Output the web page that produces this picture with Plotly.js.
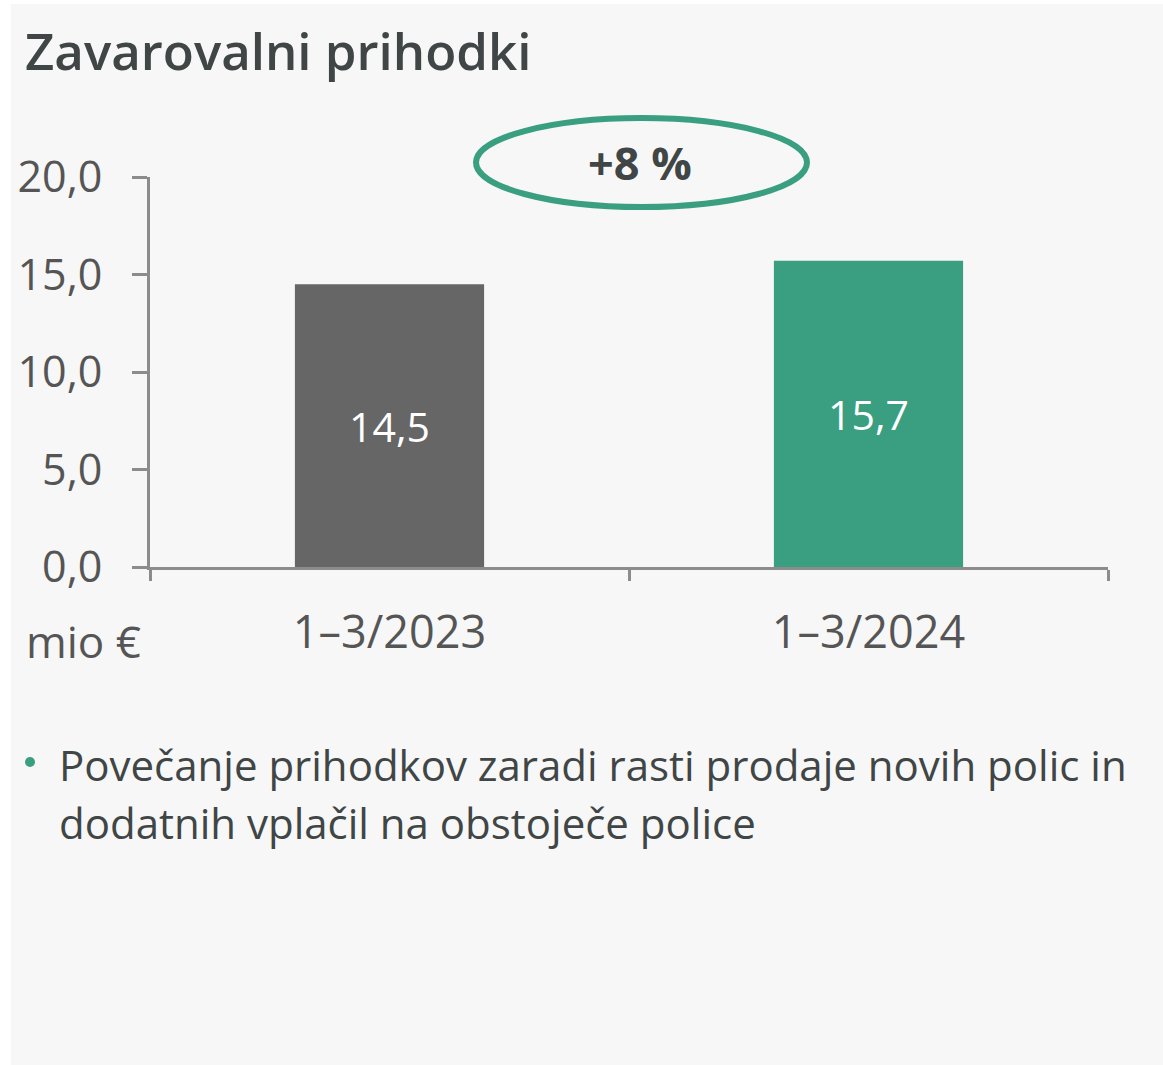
<!DOCTYPE html>
<html>
<head>
<meta charset="utf-8">
<script src="https://cdn.plot.ly/plotly-3.0.1.min.js"></script>
<style>
  html, body { margin: 0; padding: 0; background: #ffffff; }
  #chart { position: absolute; left: 11px; top: 4px; width: 1152px; height: 1061px; }
</style>
</head>
<body>
<div id="chart"></div>
<script>
const categories = ["1–3/2023", "1–3/2024"];
const values = [14.5, 15.7];
const barColors = ["#666666", "#3a9f80"];
const yTicks = [0, 5, 10, 15, 20];
const titleText = "Zavarovalni prihodki";
const growthLabel = "+8 %";
const unitLabel = "mio €";
const bulletLines = [
  "Povečanje prihodkov zaradi rasti prodaje novih polic in",
  "dodatnih vplačil na obstoječe police"
];

const FONT = "Open Sans, Noto Sans, sans-serif";
const labels = values.map(v => v.toFixed(1).replace('.', ','));

const trace = {
  type: 'bar',
  x: categories,
  y: values,
  text: labels,
  textposition: 'inside',
  insidetextanchor: 'middle',
  textfont: { family: FONT, size: 41, color: '#ffffff' },
  marker: { color: barColors, line: { width: 0 } },
  hoverinfo: 'skip'
};

const layout = {
  width: 1152,
  height: 1061,
  margin: { l: 139, r: 55, t: 173, b: 498 },
  paper_bgcolor: '#f7f7f7',
  plot_bgcolor: '#f7f7f7',
  separators: ', ',
  showlegend: false,
  bargap: 0.605,
  title: {
    text: titleText,
    x: 14 / 1152, xanchor: 'left', xref: 'container',
    y: 1 - 48 / 1061, yanchor: 'middle', yref: 'container',
    font: { family: FONT, size: 51, color: '#404545', weight: 600 }
  },
  xaxis: {
    type: 'category',
    showline: true, linecolor: '#8c8c8c', linewidth: 3,
    ticks: 'outside', tickson: 'boundaries', ticklen: 11, tickwidth: 3, tickcolor: '#8c8c8c',
    tickfont: { family: FONT, size: 45, color: '#555555' },
    ticklabelstandoff: 24,
    showgrid: false, zeroline: false, fixedrange: true
  },
  yaxis: {
    range: [0, 20],
    tickvals: yTicks,
    tickformat: '.1f',
    showline: true, linecolor: '#8c8c8c', linewidth: 3,
    ticks: 'outside', ticklen: 15, tickwidth: 3, tickcolor: '#8c8c8c',
    tickfont: { family: FONT, size: 43, color: '#555555' },
    ticklabelstandoff: 21,
    showgrid: false, zeroline: false, fixedrange: true
  },
  shapes: [
    {
      type: 'circle', xref: 'paper', yref: 'paper',
      x0: 0.3403, x1: 0.6858, y0: 0.923, y1: 1.1513,
      line: { color: '#3a9f80', width: 6 }, fillcolor: 'rgba(0,0,0,0)'
    },
    {
      type: 'circle', xref: 'paper', yref: 'paper',
      x0: (25 - 150) / 958, x1: (35 - 150) / 958,
      y0: (567 - 767) / 390, y1: (567 - 757) / 390,
      line: { width: 0 }, fillcolor: '#3a9f80'
    }
  ],
  annotations: [
    {
      text: growthLabel, xref: 'paper', yref: 'paper',
      x: 490 / 958, y: (567 - 163) / 390, xanchor: 'center', yanchor: 'middle',
      showarrow: false,
      font: { family: FONT, size: 45, color: '#404545', weight: 700 }
    },
    {
      text: unitLabel, xref: 'paper', yref: 'paper',
      x: (24 - 150) / 958, y: (567 - 641) / 390, xanchor: 'left', yanchor: 'middle',
      showarrow: false,
      font: { family: FONT, size: 44, color: '#555555' }
    },
    {
      text: bulletLines[0], xref: 'paper', yref: 'paper',
      x: (57 - 150) / 958, y: (567 - 764) / 390, xanchor: 'left', yanchor: 'middle',
      showarrow: false,
      font: { family: FONT, size: 42, color: '#404545' }
    },
    {
      text: bulletLines[1], xref: 'paper', yref: 'paper',
      x: (57 - 150) / 958, y: (567 - 822) / 390, xanchor: 'left', yanchor: 'middle',
      showarrow: false,
      font: { family: FONT, size: 42, color: '#404545' }
    }
  ]
};

Plotly.newPlot('chart', [trace], layout, { staticPlot: true, displayModeBar: false });
</script>
</body>
</html>
